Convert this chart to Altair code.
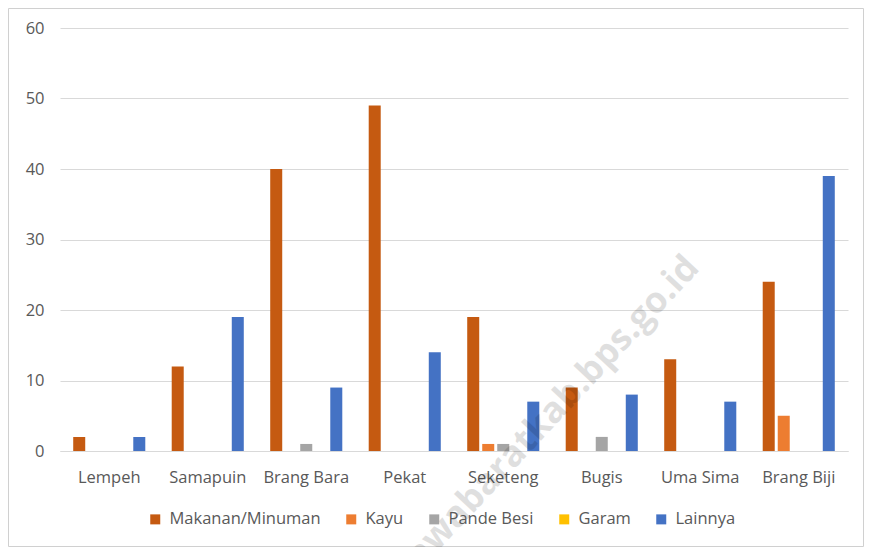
import altair as alt
import pandas as pd

categories = ["Lempeh", "Samapuin", "Brang Bara", "Pekat", "Seketeng", "Bugis", "Uma Sima", "Brang Biji"]
series = ["Makanan/Minuman", "Kayu", "Pande Besi", "Garam", "Lainnya"]
colors = ["#C55A11", "#ED7D31", "#A5A5A5", "#FFC000", "#4472C4"]
makanan = [2, 12, 40, 49, 19, 9, 13, 24]
kayu = [0, 0, 0, 0, 1, 0, 0, 5]
pande_besi = [0, 0, 1, 0, 1, 2, 0, 0]
garam = [0, 0, 0, 0, 0, 0, 0, 0]
lainnya = [2, 19, 9, 14, 7, 8, 7, 39]

vals = [makanan, kayu, pande_besi, garam, lainnya]
rows = []
for s, v in zip(series, vals):
    for c, x in zip(categories, v):
        rows.append({"Desa": c, "Jenis": s, "Jumlah": x})
df = pd.DataFrame(rows)

W, H = 788, 423
FONT = "Open Sans"
one = pd.DataFrame({"a": [0]})
BC = "#D0D0D0"
L, R, T, B = -51.5, 803.5, -19.5, 518.5

b_left = alt.Chart(one).mark_rule(color=BC).encode(
    x=alt.value(L), y=alt.value(T), y2=alt.value(B))
b_right = alt.Chart(one).mark_rule(color=BC).encode(
    x=alt.value(R), y=alt.value(T), y2=alt.value(B))
b_top = alt.Chart(one).mark_rule(color=BC).encode(
    y=alt.value(T), x=alt.value(L), x2=alt.value(R))
b_bot = alt.Chart(one).mark_rule(color=BC).encode(
    y=alt.value(B), x=alt.value(L), x2=alt.value(R))

bars = alt.Chart(df).mark_bar().encode(
    x=alt.X("Desa:N", sort=categories, title=None,
            scale=alt.Scale(paddingInner=0, paddingOuter=0),
            axis=alt.Axis(labelAngle=0, labelFontSize=16.5, labelColor="#595959",
                          labelFont=FONT, labelPadding=18, ticks=False,
                          domainColor="#D9D9D9", grid=False)),
    xOffset=alt.XOffset("Jenis:N", sort=series,
                        scale=alt.Scale(paddingInner=0.2, paddingOuter=0.88)),
    y=alt.Y("Jumlah:Q", title=None,
            scale=alt.Scale(domain=[0, 60]),
            axis=alt.Axis(values=[0, 10, 20, 30, 40, 50, 60], labelFontSize=16.5,
                          labelColor="#595959", labelFont=FONT, labelPadding=16,
                          ticks=False, domain=False, gridColor="#D9D9D9")),
    color=alt.Color("Jenis:N", sort=series,
                    scale=alt.Scale(domain=series, range=colors),
                    legend=alt.Legend(title=None, orient="none", direction="horizontal",
                                      legendX=87, legendY=483, symbolType="square",
                                      symbolSize=100, symbolStrokeWidth=0,
                                      labelFontSize=16.5, labelColor="#595959",
                                      labelFont=FONT, columnPadding=22,
                                      labelOffset=6)),
)

wm = alt.Chart(pd.DataFrame({"t": ["sumbawabaratkab.bps.go.id"]})).mark_text(
    angle=313, fontSize=36, fontWeight="bold", color="#000000", opacity=0.12,
    font=FONT
).encode(text="t:N", x=alt.value(459), y=alt.value(420))

chart = alt.layer(b_left, b_right, b_top, b_bot, bars, wm).properties(
    width=W, height=H,
    background="white",
    padding={"left": 52, "top": 20, "right": 16, "bottom": 96},
    autosize=alt.AutoSizeParams(type="none"),
).configure_view(strokeWidth=0)

chart.save("out.html", embed_options={"renderer": "svg", "actions": False})
